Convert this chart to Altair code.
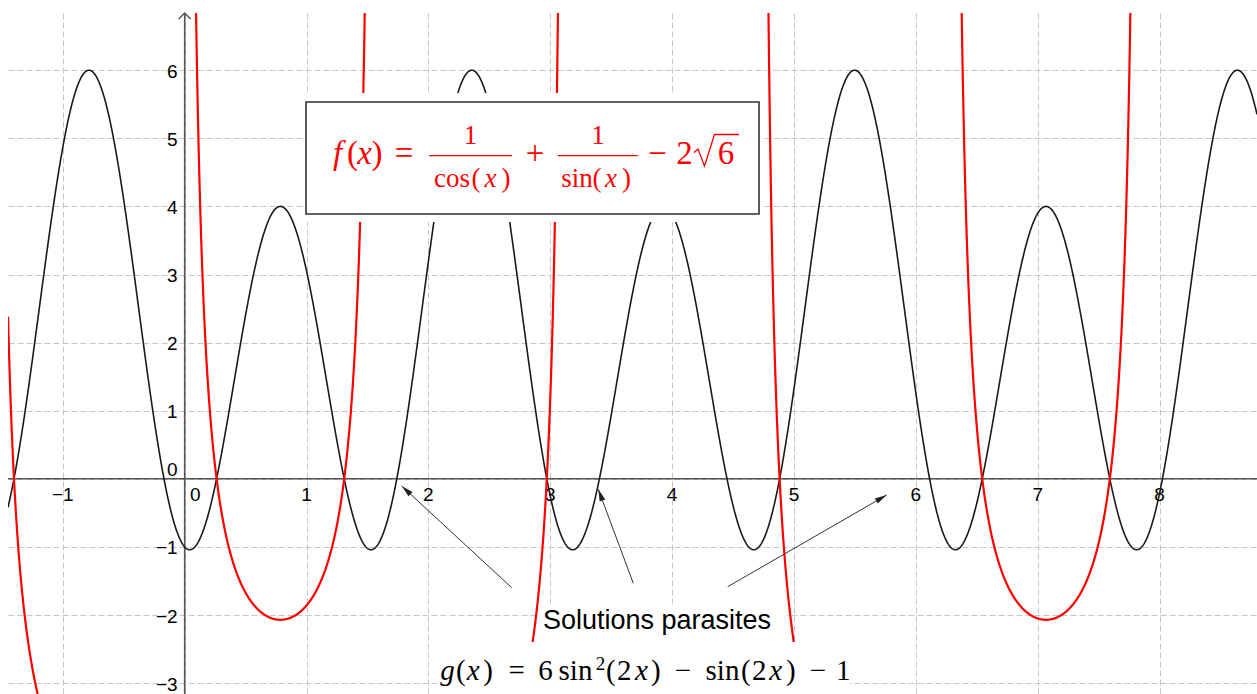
import numpy as np
import pandas as pd
import altair as alt

# ---- view window (axis units) and frame size ----
XMIN, XMAX = -1.45, 8.80
YMIN, YMAX = -3.16, 6.84
W, H = 1249, 681
LEFT, TOP = 8, 13

x_ticks = list(range(-1, 9))
y_ticks = list(range(-3, 7))

# g(x) = a*sin^2(2x) + b*sin(2x) + c
g_coef = (6, -1, -1)
# f(x) = 1/cos(x) + 1/sin(x) - 2*sqrt(6)
f_const = 2 * np.sqrt(6)


def ux(px):
    """frame pixel -> x units"""
    return XMIN + (px - LEFT) * (XMAX - XMIN) / W


def uy(py):
    """frame pixel -> y units"""
    return YMAX - (py - TOP) * (YMAX - YMIN) / H


# ---- curves ----
xs = np.linspace(XMIN, XMAX, 3000)
s2 = np.sin(2 * xs)
g_df = pd.DataFrame({"x": xs, "y": g_coef[0] * s2**2 + g_coef[1] * s2 + g_coef[2]})

rows = []
half = np.pi / 2
for k in range(int(np.floor(XMIN / half)), int(np.ceil(XMAX / half))):
    t = np.linspace(k * half, (k + 1) * half, 6002)[1:-1]
    t = t[(t >= XMIN) & (t <= XMAX)]
    v = 1 / np.cos(t) + 1 / np.sin(t) - f_const
    keep = (v > -12) & (v < 14)
    rows += [(k, a, b) for a, b in zip(t[keep], v[keep])]
f_df = pd.DataFrame(rows, columns=["branch", "x", "y"])

# ---- shared encodings ----
grid_axis_x = alt.Axis(values=x_ticks, grid=True, gridColor="#c6c6c6", gridDash=[6, 3],
                       gridWidth=1, domain=False, ticks=False, labels=False, title=None)
grid_axis_y = alt.Axis(values=y_ticks, grid=True, gridColor="#c6c6c6", gridDash=[6, 3],
                       gridWidth=1, domain=False, ticks=False, labels=False, title=None)
xs_scale = alt.Scale(domain=[XMIN, XMAX], nice=False, zero=False)
ys_scale = alt.Scale(domain=[YMIN, YMAX], nice=False, zero=False)


def X(f="x"):
    return alt.X(f"{f}:Q", scale=xs_scale, axis=grid_axis_x)


def Y(f="y"):
    return alt.Y(f"{f}:Q", scale=ys_scale, axis=grid_axis_y)


AX = "#555555"
SANS = "Liberation Sans"
SERIF = "Liberation Serif"
RED = "#ff0000"

# ---- axes through the origin ----
axis_df = pd.DataFrame({"x": [XMIN, 0.0], "x2": [XMAX, 0.0], "y": [0.0, YMIN], "y2": [0.0, YMAX]})
axes = alt.Chart(axis_df).mark_rule(color=AX, strokeWidth=1.6).encode(
    x=X(), x2="x2:Q", y=Y(), y2="y2:Q")

arrow_up = alt.Chart(pd.DataFrame({"x": [0.0], "y": [YMAX]})).mark_point(
    shape="M-1,1L0,0L1,1", filled=False, size=144, color=AX, strokeWidth=1.5, opacity=1
).encode(x=X(), y=Y())

# ---- tick labels ----
def lab(v):
    return f"\u2212{abs(v)}" if v < 0 else str(v)

xl = pd.DataFrame({"x": [t for t in x_ticks if t != 0], "y": 0.0})
xl["t"] = xl["x"].map(lab)
yl = pd.DataFrame({"y": [t for t in y_ticks if t != 0], "x": 0.0})
yl["t"] = yl["y"].map(lab)
zero = pd.DataFrame({"x": [0.0], "y": [0.0], "t": ["0"]})

TICK_FS = 19
x_labels = alt.Chart(xl).mark_text(font=SANS, fontSize=TICK_FS, dy=22.5, baseline="alphabetic",
                                   align="center", color="#000").encode(x=X(), y=Y(), text="t:N")
y_labels = alt.Chart(yl).mark_text(font=SANS, fontSize=TICK_FS, dx=-7, dy=1.5, baseline="middle",
                                   align="right", color="#000").encode(x=X(), y=Y(), text="t:N")
x_zero = alt.Chart(zero).mark_text(font=SANS, fontSize=TICK_FS, dx=10.5, dy=22.5, baseline="alphabetic",
                                   align="center", color="#000").encode(x=X(), y=Y(), text="t:N")
y_zero = alt.Chart(zero).mark_text(font=SANS, fontSize=TICK_FS, dx=-7, dy=-9, baseline="middle",
                                   align="right", color="#000").encode(x=X(), y=Y(), text="t:N")

# ---- the two functions ----
g_line = alt.Chart(g_df).mark_line(color="#1a1a1a", strokeWidth=1.6, clip=True).encode(
    x=X(), y=Y())
f_line = alt.Chart(f_df).mark_line(color=RED, strokeWidth=2.2, clip=True).encode(
    x=X(), y=Y(), detail="branch:N", order="x:Q")

# ---- label panels ----
def rect_df(boxes):
    return pd.DataFrame([{"x": ux(a), "x2": ux(b), "y": uy(c), "y2": uy(d)} for a, c, b, d in boxes])

panels = alt.Chart(rect_df([(303, 93, 762, 222), (539, 605, 787, 642), (437, 642, 850, 694)])).mark_rect(
    color="white").encode(x=X(), x2="x2:Q", y=Y(), y2="y2:Q")
f_box = alt.Chart(rect_df([(306, 102, 759, 214)])).mark_rect(
    fill="white", stroke="#333333", strokeWidth=1.6).encode(x=X(), x2="x2:Q", y=Y(), y2="y2:Q")

# ---- formula of f ----
FM, FN, FD = 33, 27, 27
f_pieces = [
    ("f", 337.5, 164, FM, True), ("(", 352.5, 164, FM, False), ("x", 364.5, 164, FM, True),
    (")", 377, 164, FM, False), ("=", 404, 164, FM, False),
    ("1", 470.5, 144, FN, False),
    ("cos", 452, 187, FD, False), ("(", 476, 187, FD, False), ("x", 490.5, 187, FD, True),
    (")", 506, 187, FD, False),
    ("+", 535, 164, FM, False),
    ("1", 598, 144, FN, False),
    ("sin", 577, 187, FD, False), ("(", 597, 187, FD, False), ("x", 611, 187, FD, True),
    (")", 626.5, 187, FD, False),
    ("\u2212", 657.5, 164, FM, False), ("2", 684.5, 164, FM, False),
    ("6", 726, 164, FM, False),
]
GM, GS = 29, 19
g_pieces = [
    ("g", 447.5, 679.5, GM, True), ("(", 460.8, 679.5, GM, False), ("x", 473.3, 679.5, GM, True),
    (")", 488, 679.5, GM, False), ("=", 516.7, 679.5, GM, False), ("6", 545.5, 679.5, GM, False),
    ("sin", 575.5, 679.5, GM, False), ("2", 600.5, 670, GS, False), ("(", 610.8, 679.5, GM, False),
    ("2", 624.2, 679.5, GM, False), ("x", 641.5, 679.5, GM, True), (")", 655.8, 679.5, GM, False),
    ("\u2212", 683, 679.5, GM, False), ("sin", 722.5, 679.5, GM, False), ("(", 745.8, 679.5, GM, False),
    ("2", 759.2, 679.5, GM, False), ("x", 775.8, 679.5, GM, True), (")", 790.8, 679.5, GM, False),
    ("\u2212", 818, 679.5, GM, False), ("1", 843.3, 679.5, GM, False),
]


def pieces_df(pieces, italic):
    return pd.DataFrame([{"t": t, "x": ux(cx), "y": uy(b), "size": sz}
                         for t, cx, b, sz, it in pieces if it == italic])


def formula(pieces, color):
    layers = []
    for it in (False, True):
        layers.append(alt.Chart(pieces_df(pieces, it)).mark_text(
            font=SERIF, fontStyle="italic" if it else "normal", align="center",
            baseline="alphabetic", color=color).encode(
            x=X(), y=Y(), text="t:N", size=alt.Size("size:Q", scale=None, legend=None)))
    return layers


# fraction bars
bars = alt.Chart(pd.DataFrame([{"x": ux(a), "x2": ux(b), "y": uy(c)}
                               for a, b, c in [(429.3, 512, 155.7), (557.7, 637.7, 155.7)]])
                 ).mark_rule(color=RED, strokeWidth=1.3).encode(x=X(), x2="x2:Q", y=Y())

# radical sign over the 6
radical_px = [(694, 152.5), (698, 149), (704.5, 166), (714.5, 134.5), (739, 134.5)]
radical = alt.Chart(pd.DataFrame([{"i": i, "x": ux(a), "y": uy(b)} for i, (a, b) in enumerate(radical_px)])
                    ).mark_line(color=RED, strokeWidth=1.3, strokeJoin="miter").encode(
    x=X(), y=Y(), order="i:Q")

sol_text = alt.Chart(pd.DataFrame({"t": ["Solutions parasites"], "x": [ux(657)], "y": [uy(629.3)]})).mark_text(
    font=SANS, fontSize=27, align="center", baseline="alphabetic", color="#000").encode(
    x=X(), y=Y(), text="t:N")

# ---- arrows towards the extraneous roots ----
arrow_px = [((511.7, 587.7), (401.7, 486.0)), ((633.3, 583.3), (598.3, 489.3)), ((727.7, 586.7), (886.7, 495.0))]
arr = pd.DataFrame([{"x": ux(a[0]), "y": uy(a[1]), "x2": ux(b[0]), "y2": uy(b[1]),
                     "angle": float(np.degrees(np.arctan2(b[0] - a[0], a[1] - b[1])) % 360)}
                    for a, b in arrow_px])
arrow_lines = alt.Chart(arr).mark_rule(color="#333333", strokeWidth=1).encode(
    x=X(), y=Y(), x2="x2:Q", y2="y2:Q")
arrow_heads = alt.Chart(arr).mark_point(
    shape="M0,0L0.55,2.2L-0.55,2.2Z", filled=True, size=119, color="#222222", opacity=1, strokeWidth=0
).encode(x=X("x2"), y=Y("y2"), angle=alt.Angle("angle:Q", scale=None))

chart = alt.layer(
    axes, x_labels, y_labels, x_zero, y_zero,
    g_line, f_line,
    panels, f_box,
    *formula(f_pieces, RED), bars, radical,
    sol_text, *formula(g_pieces, "#000000"),
    arrow_lines, arrow_heads, arrow_up,
).properties(
    width=W, height=H,
    padding={"left": LEFT, "top": TOP, "right": 0, "bottom": 0},
    autosize=alt.AutoSizeParams(type="none"),
    background="white",
).configure_view(stroke=None)

chart.save("out.html", embed_options={"renderer": "svg", "actions": False})
